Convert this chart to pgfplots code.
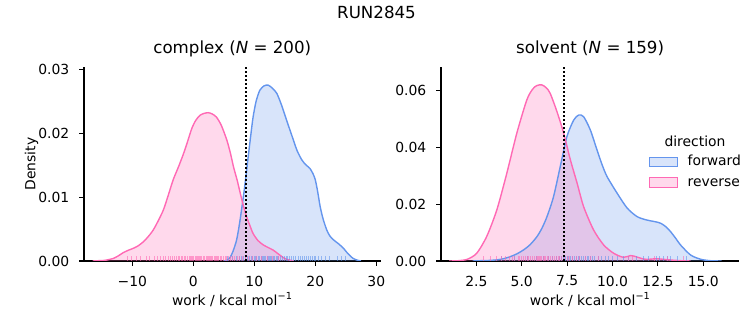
\documentclass[border=0pt]{standalone}
\usepackage{pgfplots}
\pgfplotsset{compat=1.18}
\usepackage{pgfplotstable}
\usepackage{fontspec}
\setmainfont{DejaVu Sans}
\definecolor{fwd}{RGB}{100,149,237}
\definecolor{rev}{RGB}{255,105,180}
\newcommand{\ticksize}{\fontsize{13.9bp}{16bp}\selectfont}
\newcommand{\titlesize}{\fontsize{16.67bp}{19bp}\selectfont}

% complex, forward (KDE)
\pgfplotstableread{
x y
5.0 0
5.5 0.0001
6.0 0.0005
6.5 0.0015
7.1 0.0033
7.6 0.0060
8.2 0.0100
8.6 0.0130
9.0 0.0163
9.4 0.0195
9.8 0.0225
10.3 0.0250
10.9 0.0267
11.6 0.0274
12.3 0.0275
13.0 0.0270
13.7 0.0262
14.5 0.0243
15.3 0.0220
16.2 0.0195
17.0 0.0173
17.8 0.0158
18.5 0.0150
19.1 0.0145
19.6 0.0137
20.0 0.0127
20.4 0.0108
20.8 0.0085
21.3 0.0065
21.9 0.0048
22.4 0.0039
23.0 0.0033
23.8 0.0027
24.6 0.0020
25.4 0.0011
26.2 0.0004
27.0 0.0001
27.5 0
}\cf
% complex, reverse (KDE)
\pgfplotstableread{
x y
-16.5 0
-15.5 0.00005
-14.5 0.0001
-13.5 0.0003
-13.1 0.0004
-12.3 0.0008
-11.5 0.0013
-10.6 0.0017
-9.8 0.0020
-9.0 0.0024
-8.2 0.0030
-7.4 0.0038
-6.6 0.0048
-5.8 0.0062
-4.9 0.0080
-4.1 0.0103
-3.3 0.0127
-2.4 0.0148
-1.6 0.0168
-0.9 0.0188
-0.26 0.0207
0.4 0.0220
1.1 0.0228
1.8 0.0231
2.46 0.0232
3.1 0.0230
3.8 0.0225
4.6 0.0212
5.5 0.0189
6.1 0.0168
6.6 0.0147
7.2 0.0126
7.7 0.0106
8.2 0.0087
8.75 0.0069
9.3 0.0055
9.8 0.0043
10.6 0.0032
11.5 0.0025
12.3 0.0021
13.1 0.0017
13.8 0.0012
14.5 0.0007
15.2 0.0003
16.0 0.0001
16.5 0
}\cr
% solvent, forward (KDE)
\pgfplotstableread{
x y
2.3 0
2.7 0.0001
3.2 0.0002
3.63 0.0004
4.0 0.0008
4.36 0.0015
4.73 0.0025
5.1 0.0039
5.47 0.0058
5.84 0.0086
6.11 0.0115
6.39 0.0156
6.75 0.0226
7.12 0.0332
7.49 0.0438
7.86 0.0496
8.14 0.0514
8.41 0.0508
8.78 0.0461
9.15 0.0390
9.42 0.0340
9.7 0.0297
10.26 0.0238
10.81 0.0186
11.36 0.0156
11.9 0.0144
12.3 0.0139
12.65 0.0133
12.95 0.0120
13.2 0.0103
13.5 0.0078
13.75 0.0056
14.3 0.0021
14.86 0.0006
15.4 0.0001
16.0 0
}\sf
% solvent, reverse (KDE)
\pgfplotstableread{
x y
1.0 0
1.5 0.0001
2.0 0.0006
2.52 0.0027
3.07 0.0086
3.63 0.0180
4.18 0.0309
4.73 0.0450
5.28 0.0567
5.6 0.0605
5.84 0.0618
6.11 0.0620
6.35 0.0610
6.57 0.0590
6.94 0.0526
7.31 0.0450
7.68 0.0356
8.05 0.0274
8.41 0.0191
8.96 0.0109
9.52 0.0056
10.07 0.0027
10.6 0.0013
11.0 0.0019
11.3 0.0015
11.7 0.0007
12.0 0.0006
12.4 0.0008
12.8 0.0006
13.3 0.0003
13.8 0.0001
14.3 0
}\sr

\pgfplotsset{
  myaxis/.style={
    scale only axis, height=193.7bp,
    axis x line*=bottom, axis y line*=left,
    ymin=0, scaled y ticks=false, scaled x ticks=false,
    clip mode=individual,
    tick align=outside, major tick length=4.9bp,
    every tick/.style={black, line width=1.1bp},
    axis line style={black, line width=1.1bp},
    tick label style={font=\ticksize},
    xticklabel style={anchor=north, inner sep=0pt, yshift=-9.7bp},
    yticklabel style={anchor=east, inner sep=0pt, xshift=-9.7bp},
    xlabel style={at={(axis description cs:0.5,-0.2272)}, anchor=base, inner sep=0pt, font=\ticksize},
    ylabel style={at={(axis description cs:-0.1771,0.5)}, anchor=center, inner sep=0pt, font=\ticksize},
    title style={at={(axis description cs:0.5,1.0428)}, anchor=base, inner sep=0pt, font=\titlesize},
    xlabel={work / kcal mol\textsuperscript{−1}},
  },
  kdefill/.style={draw=none, fill=#1, fill opacity=0.25, smooth, tension=0.45, forget plot},
  kdeline/.style={#1, line width=1.4bp, smooth, tension=0.45, forget plot},
  rugline/.style={ycomb, no markers, line width=1bp, draw opacity=0.6, forget plot},
}

\begin{document}
\begin{tikzpicture}
\useasboundingbox (0,0) rectangle (753bp,325bp);
\node[anchor=base, font=\titlesize] at (376.5bp,306bp) {RUN2845};

\begin{axis}[myaxis, at={(84bp,64bp)}, anchor=south west, width=296.5bp,
  xmin=-17.92, xmax=30.69, ymax=0.0303,
  xtick={-10,0,10,20,30}, xticklabels={−10,0,10,20,30},
  ytick={0,0.01,0.02,0.03}, yticklabels={0.00,0.01,0.02,0.03},
  ylabel={Density},
  title={complex (\textit{N} = 200)}]
\addplot[kdefill=fwd] table[x=x,y=y]{\cf} \closedcycle;
\addplot[kdefill=rev] table[x=x,y=y]{\cr} \closedcycle;
\addplot[kdeline=fwd] table[x=x,y=y]{\cf};
\addplot[kdeline=rev] table[x=x,y=y]{\cr};
\addplot[rugline, fwd] coordinates {(5.6,0.00078) (6.4,0.00078) (7.0,0.00078) (7.5,0.00078) (7.9,0.00078) (8.3,0.00078) (8.6,0.00078) (8.9,0.00078) (9.2,0.00078) (9.5,0.00078) (9.7,0.00078) (10.0,0.00078) (10.2,0.00078) (10.4,0.00078) (10.7,0.00078) (10.9,0.00078) (11.1,0.00078) (11.3,0.00078) (11.5,0.00078) (11.7,0.00078) (11.9,0.00078) (12.1,0.00078) (12.3,0.00078) (12.5,0.00078) (12.7,0.00078) (12.9,0.00078) (13.1,0.00078) (13.3,0.00078) (13.6,0.00078) (13.8,0.00078) (14.0,0.00078) (14.3,0.00078) (14.6,0.00078) (14.9,0.00078) (15.2,0.00078) (15.5,0.00078) (15.8,0.00078) (16.1,0.00078) (16.5,0.00078) (16.8,0.00078) (17.2,0.00078) (17.6,0.00078) (17.9,0.00078) (18.3,0.00078) (18.6,0.00078) (18.9,0.00078) (19.2,0.00078) (19.5,0.00078) (19.8,0.00078) (20.1,0.00078) (20.5,0.00078) (21.0,0.00078) (21.6,0.00078) (22.4,0.00078) (23.6,0.00078) (24.3,0.00078) (24.9,0.00078)};
\addplot[rugline, rev] coordinates {(-10.8,0.00078) (-10.1,0.00078) (-9.3,0.00078) (-8.7,0.00078) (-7.7,0.00078) (-7.1,0.00078) (-6.3,0.00078) (-5.9,0.00078) (-5.4,0.00078) (-4.9,0.00078) (-4.5,0.00078) (-4.1,0.00078) (-3.8,0.00078) (-3.4,0.00078) (-3.1,0.00078) (-2.8,0.00078) (-2.5,0.00078) (-2.2,0.00078) (-1.9,0.00078) (-1.7,0.00078) (-1.4,0.00078) (-1.2,0.00078) (-0.9,0.00078) (-0.7,0.00078) (-0.5,0.00078) (-0.3,0.00078) (-0.1,0.00078) (0.1,0.00078) (0.3,0.00078) (0.5,0.00078) (0.7,0.00078) (0.9,0.00078) (1.0,0.00078) (1.2,0.00078) (1.4,0.00078) (1.6,0.00078) (1.8,0.00078) (1.9,0.00078) (2.1,0.00078) (2.3,0.00078) (2.5,0.00078) (2.6,0.00078) (2.8,0.00078) (3.0,0.00078) (3.2,0.00078) (3.4,0.00078) (3.6,0.00078) (3.8,0.00078) (4.0,0.00078) (4.2,0.00078) (4.4,0.00078) (4.7,0.00078) (4.9,0.00078) (5.2,0.00078) (5.5,0.00078) (5.8,0.00078) (6.1,0.00078) (6.4,0.00078) (6.8,0.00078) (7.2,0.00078) (7.6,0.00078) (8.0,0.00078) (8.5,0.00078) (9.1,0.00078) (9.7,0.00078) (10.4,0.00078) (11.2,0.00078) (12.1,0.00078) (13.0,0.00078) (14.0,0.00078)};
\addplot[black, line width=1.8bp, dash pattern=on 1.8bp off 2.2bp, forget plot] coordinates {(8.64,0) (8.64,0.0303)};
\end{axis}

\begin{axis}[myaxis, at={(441bp,64bp)}, anchor=south west, width=298.3bp,
  xmin=0.556, xmax=16.98, ymax=0.0682,
  xtick={2.5,5,7.5,10,12.5,15}, xticklabels={2.5,5.0,7.5,10.0,12.5,15.0},
  ytick={0,0.02,0.04,0.06}, yticklabels={0.00,0.02,0.04,0.06},
  title={solvent (\textit{N} = 159)}]
\addplot[kdefill=fwd] table[x=x,y=y]{\sf} \closedcycle;
\addplot[kdefill=rev] table[x=x,y=y]{\sr} \closedcycle;
\addplot[kdeline=fwd] table[x=x,y=y]{\sf};
\addplot[kdeline=rev] table[x=x,y=y]{\sr};
\addplot[rugline, fwd] coordinates {(3.9,0.00176) (4.6,0.00176) (5.3,0.00176) (5.8,0.00176) (6.2,0.00176) (6.5,0.00176) (6.7,0.00176) (6.9,0.00176) (7.1,0.00176) (7.2,0.00176) (7.3,0.00176) (7.4,0.00176) (7.5,0.00176) (7.6,0.00176) (7.7,0.00176) (7.8,0.00176) (7.9,0.00176) (8.0,0.00176) (8.1,0.00176) (8.2,0.00176) (8.3,0.00176) (8.4,0.00176) (8.5,0.00176) (8.6,0.00176) (8.7,0.00176) (8.8,0.00176) (8.9,0.00176) (9.0,0.00176) (9.2,0.00176) (9.4,0.00176) (9.6,0.00176) (9.8,0.00176) (10.0,0.00176) (10.3,0.00176) (10.6,0.00176) (10.9,0.00176) (11.3,0.00176) (11.7,0.00176) (12.0,0.00176) (12.4,0.00176) (12.6,0.00176) (12.8,0.00176) (13.0,0.00176) (13.2,0.00176) (13.6,0.00176) (14.1,0.00176)};
\addplot[rugline, rev] coordinates {(2.9,0.00176) (3.3,0.00176) (3.6,0.00176) (3.9,0.00176) (4.1,0.00176) (4.3,0.00176) (4.5,0.00176) (4.6,0.00176) (4.8,0.00176) (4.9,0.00176) (5.0,0.00176) (5.1,0.00176) (5.2,0.00176) (5.3,0.00176) (5.4,0.00176) (5.5,0.00176) (5.6,0.00176) (5.7,0.00176) (5.8,0.00176) (5.85,0.00176) (5.9,0.00176) (6.0,0.00176) (6.05,0.00176) (6.1,0.00176) (6.2,0.00176) (6.25,0.00176) (6.3,0.00176) (6.4,0.00176) (6.5,0.00176) (6.6,0.00176) (6.7,0.00176) (6.8,0.00176) (6.9,0.00176) (7.0,0.00176) (7.1,0.00176) (7.2,0.00176) (7.35,0.00176) (7.5,0.00176) (7.65,0.00176) (7.8,0.00176) (8.0,0.00176) (8.2,0.00176) (8.5,0.00176) (8.8,0.00176) (9.2,0.00176) (10.9,0.00176) (11.1,0.00176) (12.3,0.00176) (13.0,0.00176) (13.9,0.00176)};
\addplot[black, line width=1.8bp, dash pattern=on 1.8bp off 2.2bp, forget plot] coordinates {(7.33,0) (7.33,0.0682)};
\end{axis}

% legend (direction)
\node[anchor=base, font=\ticksize, inner sep=0pt] at (695bp,178.3bp) {direction};
\draw[fill=fwd, fill opacity=0.25, draw=fwd, line width=1bp] (649.3bp,158.15bp) rectangle (677.1bp,167.85bp);
\draw[fill=rev, fill opacity=0.25, draw=rev, line width=1bp] (649.3bp,137.45bp) rectangle (677.1bp,147.15bp);
\node[anchor=base west, font=\ticksize, inner sep=0pt] at (687.5bp,159bp) {forward};
\node[anchor=base west, font=\ticksize, inner sep=0pt] at (687.5bp,138.5bp) {reverse};
\end{tikzpicture}
\end{document}
